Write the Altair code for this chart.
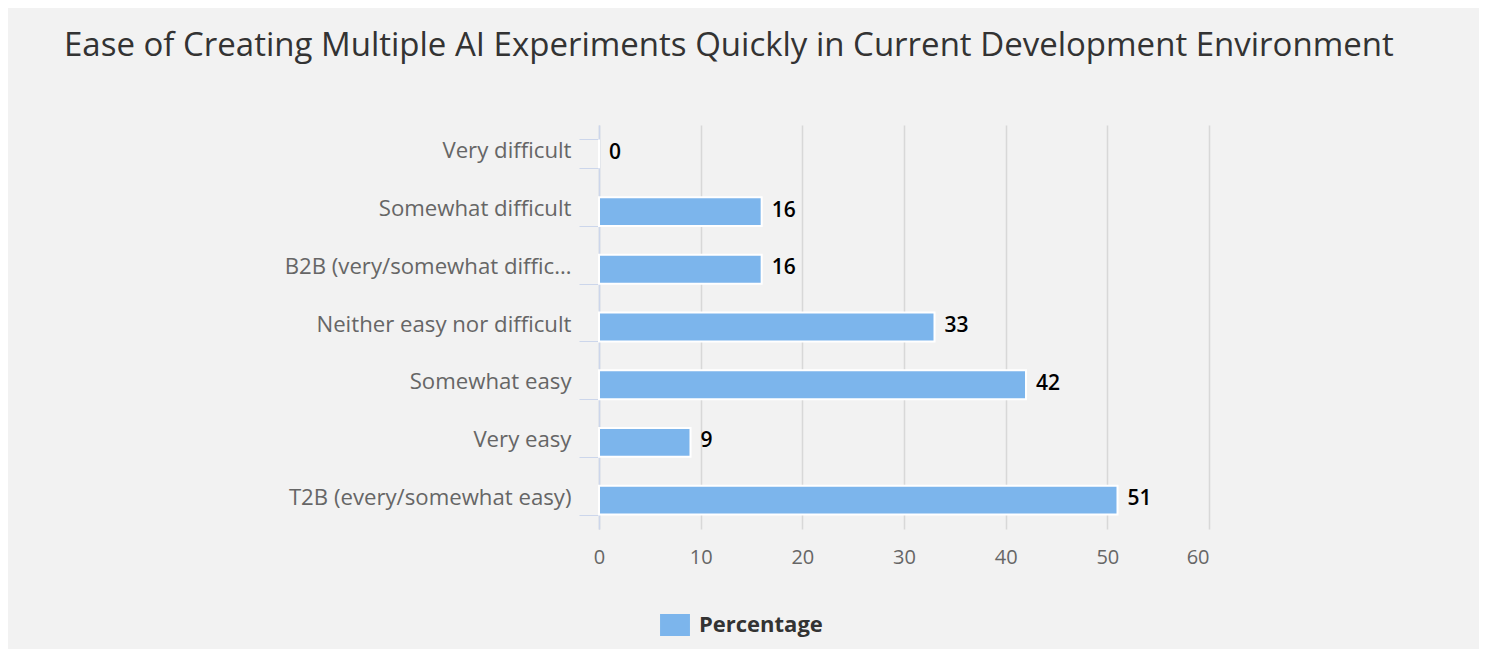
import altair as alt
import pandas as pd

categories = [
    "Very difficult",
    "Somewhat difficult",
    "B2B (very/somewhat difficult)",
    "Neither easy nor difficult",
    "Somewhat easy",
    "Very easy",
    "T2B (every/somewhat easy)",
]
values = [0, 16, 16, 33, 42, 9, 51]
series_name = "Percentage"
x_ticks = [0, 10, 20, 30, 40, 50, 60]

df = pd.DataFrame({"category": categories, "value": values, "series": series_name})

FONT = "Open Sans"

y_enc = alt.Y(
    "category:N",
    sort=categories,
    title=None,
    scale=alt.Scale(paddingInner=0.5, paddingOuter=0.25),
    axis=alt.Axis(
        tickBand="extent",
        tickSize=20,
        tickColor="#ccd6eb",
        domainColor="#ccd6eb",
        domainWidth=1.5,
        labelPadding=8,
        labelOffset=-3,
        labelFontSize=22.2,
        labelFont=FONT,
        labelColor="#666666",
        labelLimit=292,
        grid=False,
    ),
)

x_enc = alt.X(
    "value:Q",
    title=None,
    scale=alt.Scale(domain=[0, 60], nice=False),
    axis=alt.Axis(
        values=x_ticks,
        domain=False,
        ticks=False,
        grid=True,
        gridColor="#d8d8d8",
        gridWidth=1.5,
        labelPadding=18,
        labelFlush=False,
        labelAlign=alt.ExprRef("datum.value == 60 ? 'right' : 'center'"),
        labelFontSize=20,
        labelFont=FONT,
        labelColor="#666666",
    ),
)

bars = alt.Chart(df).mark_bar(stroke="white", strokeWidth=2).encode(
    y=y_enc,
    x=x_enc,
    color=alt.Color(
        "series:N",
        scale=alt.Scale(range=["#7cb5ec"]),
        legend=alt.Legend(
            title=None,
            orient="none",
            legendX=65,
            legendY=489,
            symbolType="M-1.36,-1H1.36V1H-1.36Z",
            symbolSize=484,
            symbolStrokeWidth=0,
            symbolOpacity=1,
            labelFont=FONT,
            labelFontSize=22,
            labelFontWeight="bold",
            labelColor="#333333",
            labelOffset=13,
        ),
    ),
)

labels = alt.Chart(df).mark_text(
    align="left", baseline="middle", dx=10, dy=-1, font=FONT, fontSize=21,
    fontWeight=600, color="#000000"
).encode(
    y=alt.Y("category:N", sort=categories),
    x=alt.X("value:Q"),
    text=alt.Text("value:Q"),
)

chart = alt.layer(bars, labels).properties(
    width=610,
    height=404,
    autosize=alt.AutoSizeParams(type="none"),
    padding={"left": 591, "top": 117, "right": 270, "bottom": 120},
    background="#f2f2f2",
    title=alt.TitleParams(
        "Ease of Creating Multiple AI Experiments Quickly in Current Development Environment",
        anchor="start",
        frame="group",
        dx=-535,
        offset=51,
        font=FONT,
        fontSize=33,
        fontWeight="normal",
        color="#333333",
    ),
).configure_view(stroke=None)

chart.save("out.html", embed_options={"renderer": "svg", "actions": False})
